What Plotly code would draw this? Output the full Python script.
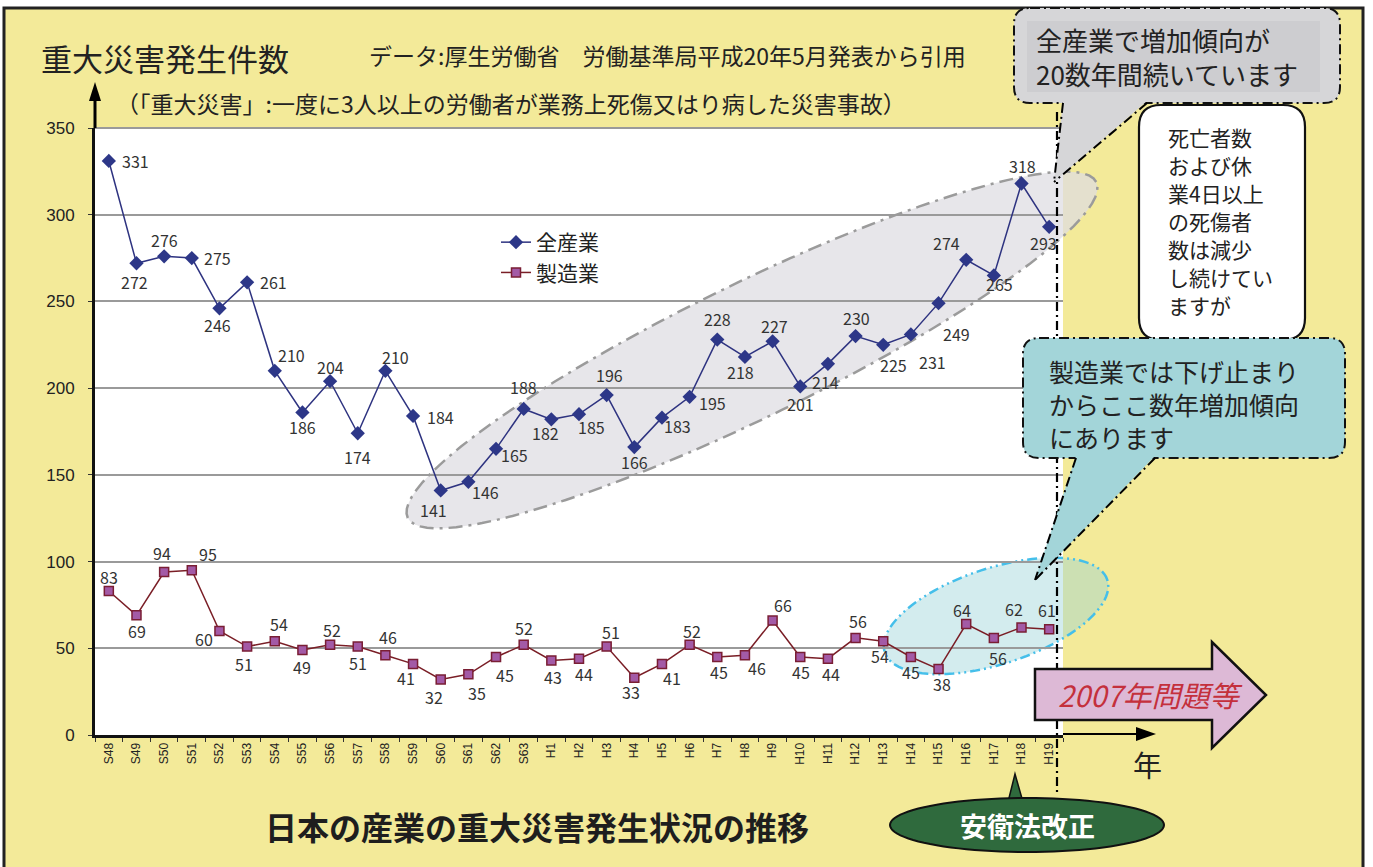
import math
import plotly.graph_objects as go

# ---------------- data ----------------
categories = ["S48", "S49", "S50", "S51", "S52", "S53", "S54", "S55", "S56", "S57",
              "S58", "S59", "S60", "S61", "S62", "S63", "H1", "H2", "H3", "H4",
              "H5", "H6", "H7", "H8", "H9", "H10", "H11", "H12", "H13", "H14",
              "H15", "H16", "H17", "H18", "H19"]

all_industries = [331, 272, 276, 275, 246, 261, 210, 186, 204, 174,
                  210, 184, 141, 146, 165, 188, 182, 185, 196, 166,
                  183, 195, 228, 218, 227, 201, 214, 230, 225, 231,
                  249, 274, 265, 318, 293]

manufacturing = [83, 69, 94, 95, 60, 51, 54, 49, 52, 51,
                 46, 41, 32, 35, 45, 52, 43, 44, 51, 33,
                 41, 52, 45, 46, 66, 45, 44, 56, 54, 45,
                 38, 64, 56, 62, 61]

y_ticks = [0, 50, 100, 150, 200, 250, 300, 350]

# label offsets in pixels (dx, dy up) — style only
off_all = [(27, 0), (-2, -19), (0, 16), (26, 0), (-2, -17), (26, 0), (17, 16), (0, -15), (0, 14), (0, -24),
           (10, 14), (27, -1), (-7, -20), (17, -10), (18, -6), (0, 22), (-6, -14), (12, -13), (3, 20), (0, -15),
           (16, -8), (23, -6), (0, 21), (-4, -15), (2, 15), (0, -18), (-2, -18), (1, 18), (10, -20), (22, -28),
           (18, -31), (-20, 17), (6, -9), (1, 18), (-6, -16)]

off_mfg = [(0, 14), (1, -16), (-2, 19), (16, 16), (-15, -8), (-3, -17), (4, 17), (0, -17), (2, 15), (0, -16),
           (3, 18), (-7, -14), (-7, -17), (9, -19), (9, -18), (0, 17), (2, -17), (5, -15), (4, 15), (-3, -14),
           (10, -14), (2, 14), (2, -15), (12, -13), (10, 16), (1, -15), (3, -15), (2, 17), (-3, -15), (0, -15),
           (3, -15), (-4, 14), (4, -20), (-8, 18), (-2, 19)]

# ---------------- geometry ----------------
W, H = 1373, 867
L, R, T, B = 95, 1063, 128, 735
JP = "Noto Sans CJK JP"
LAT = "Liberation Sans"


def px(x):
    return (x - L) / (R - L)


def py(y):
    return (B - y) / (B - T)


def pt(x, y):
    return f"{px(x):.5f},{py(y):.5f}"


def poly(points):
    return "M " + " L ".join(pt(x, y) for x, y in points) + " Z"


def rrect(x0, y0, x1, y1, r):
    return (f"M {pt(x0 + r, y0)} L {pt(x1 - r, y0)} Q {pt(x1, y0)} {pt(x1, y0 + r)} "
            f"L {pt(x1, y1 - r)} Q {pt(x1, y1)} {pt(x1 - r, y1)} "
            f"L {pt(x0 + r, y1)} Q {pt(x0, y1)} {pt(x0, y1 - r)} "
            f"L {pt(x0, y0 + r)} Q {pt(x0, y0)} {pt(x0 + r, y0)} Z")


def ellipse(cx, cy, a, b, ang, n=96):
    th = math.radians(ang)
    pts = []
    for i in range(n):
        t = 2 * math.pi * i / n
        ex = a * math.cos(t)
        ey = b * math.sin(t)
        x = cx + ex * math.cos(th) - ey * math.sin(th)
        y = cy - (ex * math.sin(th) + ey * math.cos(th))
        pts.append((x, y))
    return poly(pts)


shapes = []


def shp(path=None, fill="rgba(0,0,0,0)", color="black", width=0, dash="solid", layer="above"):
    shapes.append(dict(type="path", path=path, xref="paper", yref="paper", fillcolor=fill,
                       line=dict(color=color, width=width, dash=dash), layer=layer))


def line(x0, y0, x1, y1, color="black", width=2, dash="solid", layer="above"):
    shapes.append(dict(type="line", xref="paper", yref="paper", x0=px(x0), y0=py(y0),
                       x1=px(x1), y1=py(y1), line=dict(color=color, width=width, dash=dash),
                       layer=layer))


annotations = []


def txt(x, y, s, size, color="#222", xanchor="left", yanchor="middle", family=JP, style="normal"):
    annotations.append(dict(x=px(x), y=py(y), xref="paper", yref="paper", text=s,
                            showarrow=False, xanchor=xanchor, yanchor=yanchor,
                            font=dict(size=size, color=color, family=family, style=style)))


DASHDOT = "10px,4px,2px,4px"

# backgrounds
shp(poly([(4, 8), (1363, 8), (1363, 900), (4, 900)]), fill="#F3EA99", color="#222", width=3, layer="below")
shp(poly([(L, T), (R, T), (R, B), (L, B)]), fill="white", layer="below")
# highlight ellipses
shp(ellipse(752, 350, 383, 67, 26), fill="rgba(222,221,226,0.72)", color="#9B9B9B", width=2.5,
    dash="14px,6px,3px,6px", layer="below")
shp(ellipse(996, 616, 117, 48, 18), fill="rgba(150,210,214,0.42)", color="#45BFEA", width=2.5,
    dash="10px,4px,2px,4px,2px,4px", layer="below")
line(L, T, R, T, color="#9A9A9A", width=2, layer="below")

# axis arrows
line(L, T, L, 96, width=3)
shp(poly([(89, 101), (101, 101), (95, 82)]), fill="black")
line(R, B - 1, 1140, B - 1, width=2)
shp(poly([(1136, 727), (1136, 741), (1156, 734)]), fill="black")

# vertical dash-dot marker line
line(1057, 112, 1057, 792, width=2.2, dash="9px,4px,2px,4px")

# grey callout (top)
shp(rrect(1014, 8, 1340, 103, 16), fill="#D6D6D8", color="#111", width=2, dash=DASHDOT)
shp(poly([(1027, 21), (1320, 21), (1320, 92), (1027, 92)]), fill="#CDCDD0")
shp(poly([(1063, 101), (1147, 101), (1054, 182)]), fill="#D6D6D8")
line(1063, 103, 1054, 182, width=2, dash=DASHDOT)
line(1147, 103, 1054, 182, width=2, dash=DASHDOT)

# white callout
shp(rrect(1139, 105, 1305, 340, 22), fill="white", color="#111", width=2.2)

# teal callout
shp(rrect(1023, 338, 1345, 458, 16), fill="#A3D5D9", color="#111", width=2, dash=DASHDOT)
shp(poly([(1076, 456), (1155, 456), (1035, 580)]), fill="#A3D5D9")
line(1076, 458, 1035, 580, width=2, dash=DASHDOT)
line(1155, 458, 1035, 580, width=2, dash=DASHDOT)

# pink arrow
shp(poly([(1035, 669), (1212, 669), (1212, 642), (1266, 695), (1212, 748), (1212, 720), (1035, 720)]),
    fill="#DDB9D6", color="#111", width=2.5)

# green ellipse label with pointer
shp(poly([(1008, 802), (1023, 802), (1015, 774)]), fill="#2F6A3D", color="#111", width=1.5)
shp(ellipse(1027, 825, 137, 27, 0), fill="#2F6A3D", color="#111", width=2)

# ---------------- texts ----------------
txt(39, 57, "重大災害発生件数", 31, color="#222")
txt(367, 55, "データ:厚生労働省　労働基準局平成20年5月発表から引用", 23, color="#222")
txt(114, 103, "（「重大災害」:一度に3人以上の労働者が業務上死傷又はり病した災害事故）", 23, color="#222")
txt(537, 826, "<b>日本の産業の重大災害発生状況の推移</b>", 32, color="#1E1E1E", xanchor="center")
txt(1147, 764, "年", 29, color="#222", xanchor="center")
txt(1027, 826, "<b>安衛法改正</b>", 27, color="white", xanchor="center")
txt(1150, 694, "2007年問題等", 29, color="#C4303C", xanchor="center", style="italic")

txt(1034, 39, "全産業で増加傾向が", 26, color="#222")
txt(1034, 73, "20数年間続いています", 26, color="#222")

for i, s in enumerate(["死亡者数", "および休", "業4日以上", "の死傷者", "数は減少", "し続けてい", "ますが"]):
    txt(1166, 137 + i * 28, s, 21, color="#222")

for i, s in enumerate(["製造業では下げ止まり", "からここ数年増加傾向", "にあります"]):
    txt(1047, 371 + i * 33, s, 25, color="#222")

# data labels placed through the axes' own scales
for series, offs in ((all_industries, off_all), (manufacturing, off_mfg)):
    for cat, v, (dx, dy) in zip(categories, series, offs):
        annotations.append(dict(x=cat, y=v, xref="x", yref="y", text=str(v), showarrow=False,
                                xanchor="center", yanchor="middle", xshift=dx, yshift=dy,
                                font=dict(size=16, color="#333", family=JP)))

# ---------------- traces ----------------
fig = go.Figure()
fig.add_trace(go.Scatter(
    x=categories, y=all_industries, mode="lines+markers", name="全産業",
    line=dict(color="#2E3380", width=1.5),
    marker=dict(symbol="diamond", size=11, color="#2D3788")))
fig.add_trace(go.Scatter(
    x=categories, y=manufacturing, mode="lines+markers", name="製造業",
    line=dict(color="#7A1E26", width=1.5),
    marker=dict(symbol="square", size=9, color="#A35AA6", line=dict(color="#7A1E34", width=1.5))))

fig.update_layout(
    width=W, height=H,
    margin=dict(l=L, r=W - R, t=T, b=H - B, pad=0),
    paper_bgcolor="white",
    plot_bgcolor="rgba(0,0,0,0)",
    font=dict(family=JP, color="#222"),
    showlegend=True,
    legend=dict(x=px(496), y=py(222), xanchor="left", yanchor="top",
                bgcolor="rgba(0,0,0,0)", font=dict(size=21, family=JP, color="#222"),
                tracegroupgap=0),
    shapes=shapes,
    annotations=annotations,
)
fig.update_xaxes(
    type="category", range=[-0.5, len(categories) - 0.5],
    showgrid=False, showline=True, linecolor="#111", linewidth=3,
    ticks="outside", ticklen=4, tickcolor="#333", tickson="boundaries",
    tickangle=-90, tickfont=dict(size=12, family=LAT, color="#222"),
    fixedrange=True)
fig.update_yaxes(
    range=[0, 350], tickvals=y_ticks, showgrid=True, gridcolor="#9A9A9A", gridwidth=2,
    showline=True, linecolor="#111", linewidth=3, zeroline=False,
    ticks="outside", ticklen=4, tickcolor="#333",
    tickfont=dict(size=17, family=LAT, color="#222"), ticklabelstandoff=10,
    fixedrange=True)

fig.write_html("out.html", config={"displayModeBar": False},
               post_script="document.body.style.margin='0';document.body.style.overflow='hidden';")
